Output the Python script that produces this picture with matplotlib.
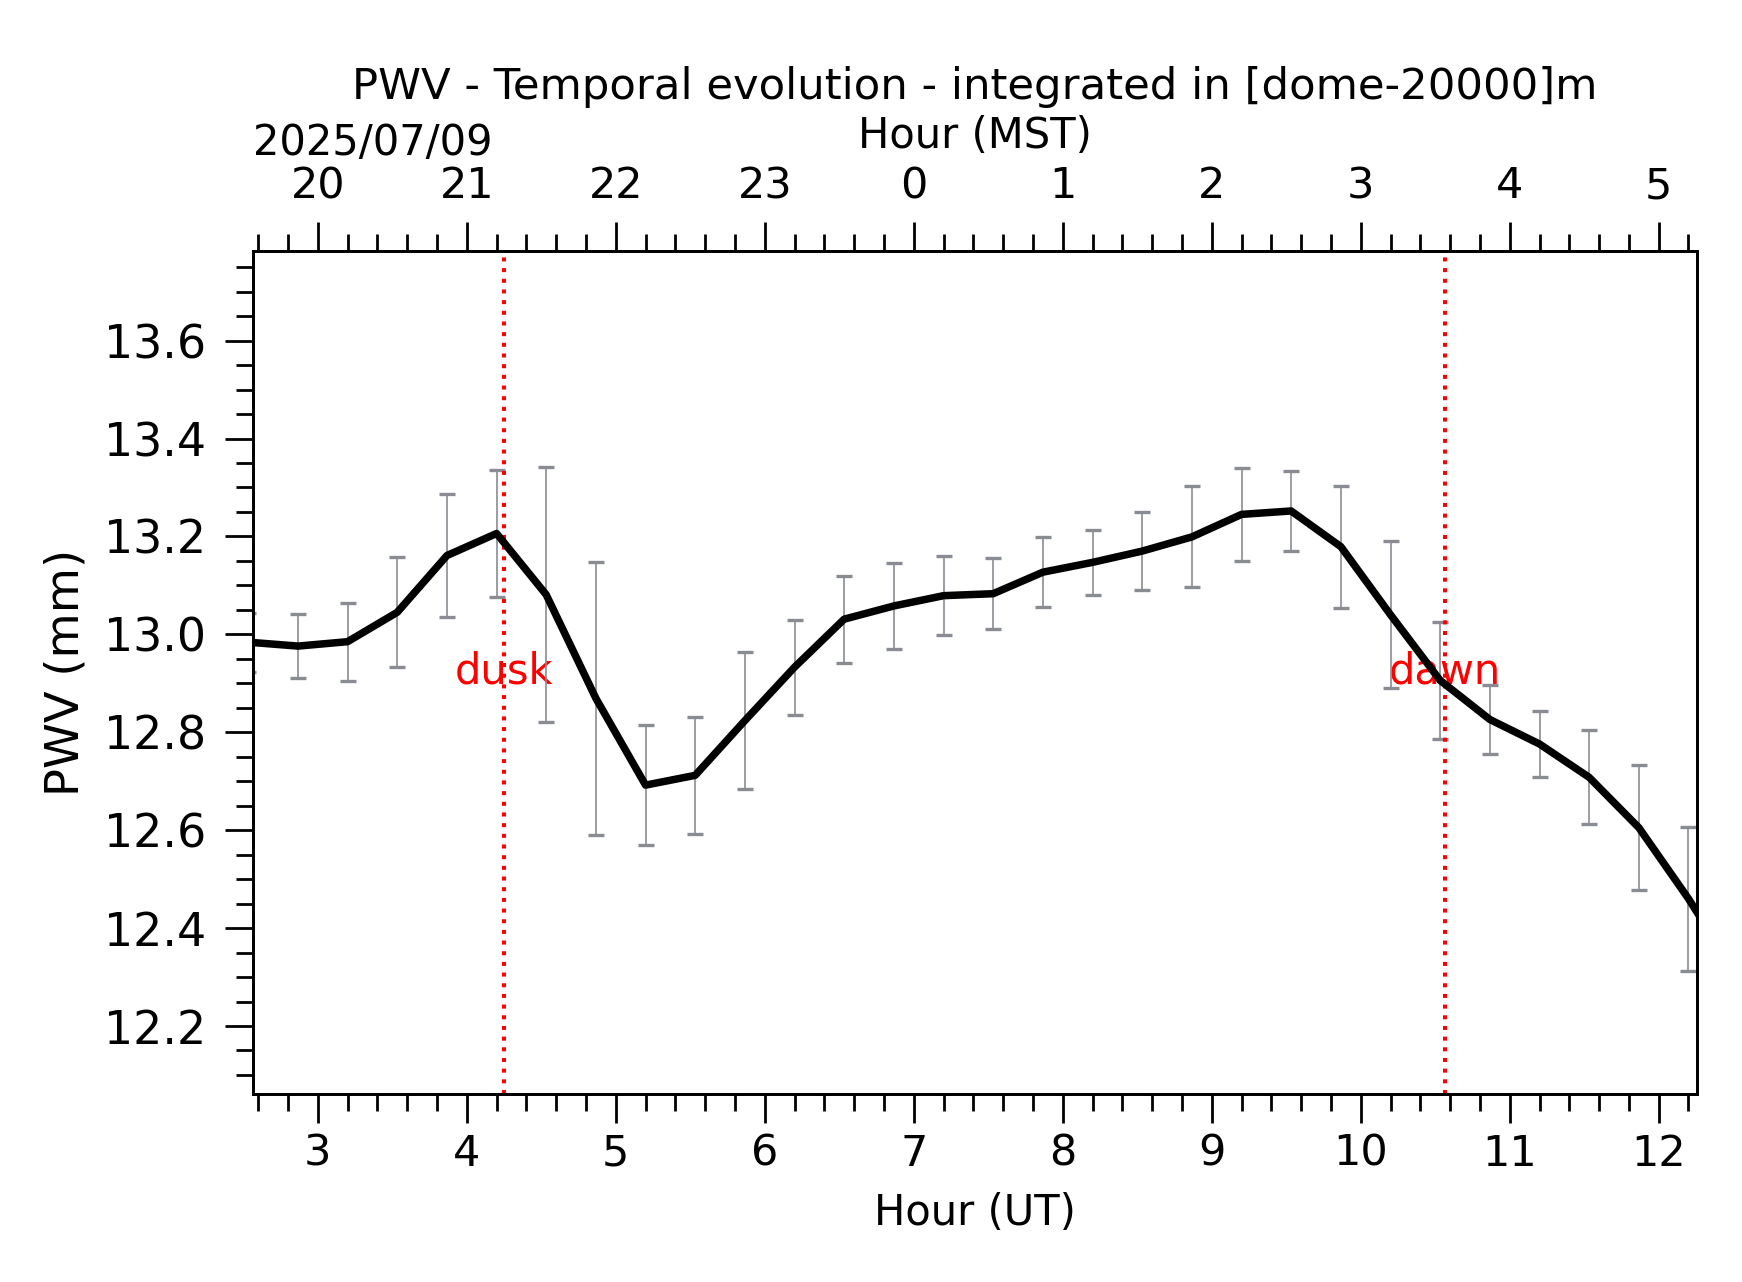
import matplotlib
matplotlib.use('Agg')
import matplotlib.pyplot as plt
from matplotlib.ticker import MultipleLocator

plt.rcParams['font.family'] = 'DejaVu Sans'

# PWV samples (UT hours), 20 min cadence
ut_hours = [2.533, 2.867, 3.200, 3.533, 3.867, 4.200, 4.533, 4.867, 5.200, 5.533,
            5.867, 6.200, 6.533, 6.867, 7.200, 7.533, 7.867, 8.200, 8.533, 8.867,
            9.200, 9.533, 9.867, 10.200, 10.533, 10.867, 11.200, 11.533, 11.867,
            12.200, 12.533]
pwv = [12.984, 12.976, 12.985, 13.045, 13.161, 13.206, 13.081, 12.869, 12.692, 12.712,
       12.824, 12.933, 13.031, 13.058, 13.079, 13.083, 13.127, 13.147, 13.170, 13.199,
       13.245, 13.252, 13.179, 13.040, 12.906, 12.826, 12.776, 12.708, 12.605,
       12.460, 12.300]
pwv_err = [0.060, 0.066, 0.080, 0.112, 0.125, 0.129, 0.260, 0.278, 0.123, 0.120,
           0.140, 0.097, 0.089, 0.087, 0.081, 0.073, 0.071, 0.067, 0.079, 0.103,
           0.095, 0.082, 0.125, 0.150, 0.120, 0.071, 0.067, 0.096, 0.128,
           0.147, 0.150]

dusk_ut = 4.253
dawn_ut = 10.568
date_str = '2025/07/09'
utc_offset = -7

x_range = (2.567, 12.254)
y_range = (12.061, 13.784)

fig = plt.figure(figsize=(8.71, 6.41), dpi=200)
ax = fig.add_axes([0.1454, 0.1466, 0.8285, 0.658])

ax.errorbar(ut_hours, pwv, yerr=pwv_err, fmt='none', ecolor='#8a8c93',
            elinewidth=0.6, capsize=2.9, capthick=1.2, zorder=2)
ax.plot(ut_hours, pwv, color='black', linewidth=2.7, zorder=3)

ax.axvline(dusk_ut, color='red', linestyle=':', linewidth=1.45, zorder=2)
ax.axvline(dawn_ut, color='red', linestyle=':', linewidth=1.45, zorder=2)
ax.text(dusk_ut, 12.9, 'dusk', color='red', fontsize=15, ha='center', va='baseline', zorder=1)
ax.text(dawn_ut, 12.9, 'dawn', color='red', fontsize=15, ha='center', va='baseline', zorder=1)

ax.set_xlim(*x_range)
ax.set_ylim(*y_range)

ax.xaxis.set_major_locator(MultipleLocator(1))
ax.xaxis.set_minor_locator(MultipleLocator(0.2))
ax.yaxis.set_major_locator(MultipleLocator(0.2))
ax.yaxis.set_minor_locator(MultipleLocator(0.05))
ax.yaxis.set_major_formatter(plt.FormatStrFormatter('%.1f'))

ax.tick_params(axis='x', which='both', direction='out', top=False, bottom=True)
ax.tick_params(axis='x', which='major', length=10.5, width=1.0, labelsize=15.5, pad=3.5)
ax.tick_params(axis='x', which='minor', length=6, width=1.0)
ax.tick_params(axis='y', which='both', direction='out', right=False, left=True)
ax.tick_params(axis='y', which='major', length=10, width=1.0, labelsize=16.5, pad=7)
ax.tick_params(axis='y', which='minor', length=6, width=1.0)

ax.set_xlabel('Hour (UT)', fontsize=15, labelpad=6)
ax.set_ylabel('PWV (mm)', fontsize=16.7, labelpad=5.5)

for spine in ax.spines.values():
    spine.set_linewidth(1.0)

# top axis: local time (MST)
ax2 = ax.twiny()
ax2.set_xlim(*x_range)
top_ticks = list(range(3, 13))
ax2.set_xticks(top_ticks)
ax2.set_xticklabels([str((h + utc_offset) % 24) for h in top_ticks])
ax2.xaxis.set_minor_locator(MultipleLocator(0.2))
ax2.tick_params(axis='x', which='major', direction='out', length=10.5, width=1.0,
                labelsize=15.5, pad=5)
ax2.tick_params(axis='x', which='minor', direction='out', length=6, width=1.0)
for spine in ax2.spines.values():
    spine.set_linewidth(1.0)

ax.text(0.5, 1.121, 'Hour (MST)', transform=ax.transAxes, fontsize=15,
        ha='center', va='baseline')
ax.text(0.083, 1.113, date_str, transform=ax.transAxes, fontsize=15,
        ha='center', va='baseline')
ax.text(0.5, 1.18, 'PWV - Temporal evolution - integrated in [dome-20000]m',
        transform=ax.transAxes, fontsize=15.6, ha='center', va='baseline')

fig.savefig('out.png', dpi=200)
